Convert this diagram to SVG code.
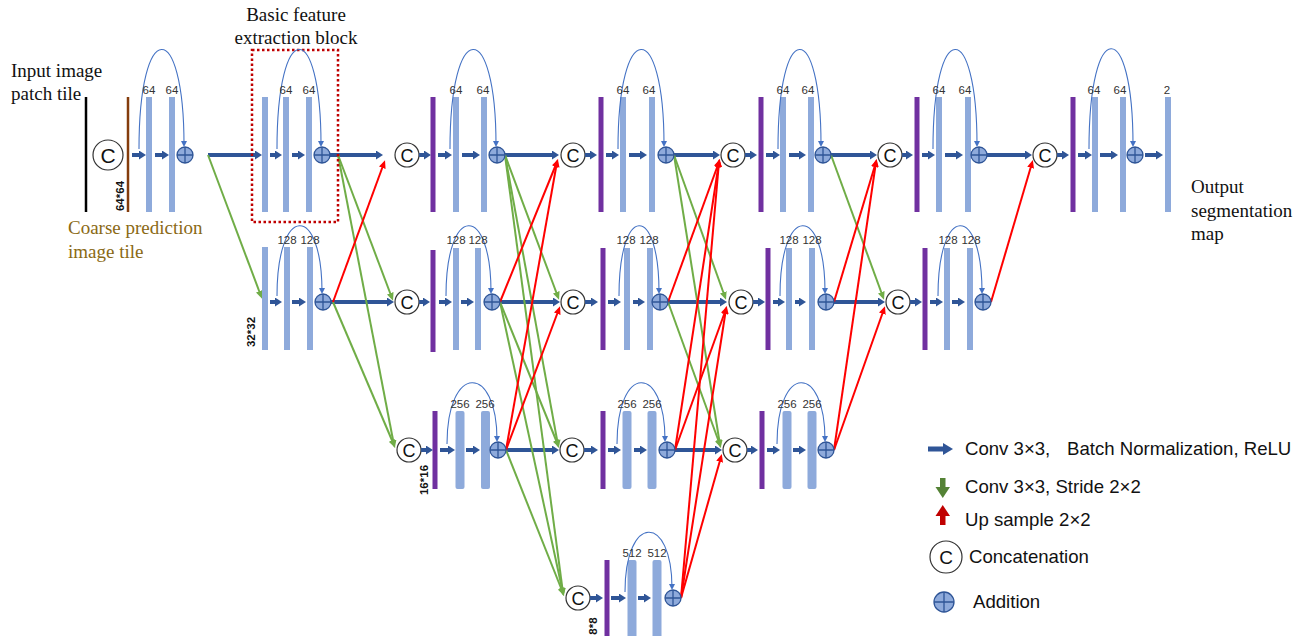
<svg xmlns="http://www.w3.org/2000/svg" xmlns:xlink="http://www.w3.org/1999/xlink" width="1302" height="636" viewBox="0 0 1302 636">
<style>
.lb{fill:#8eaadb}
.pu{fill:#7030a0}
.ba{stroke:#2f5597;stroke-width:4;fill:none;marker-end:url(#mb)}
.g{stroke:#70ad47;stroke-width:2;fill:none;marker-end:url(#mg)}
.r{stroke:#ff0000;stroke-width:2;fill:none;marker-end:url(#mr)}
.arc{stroke:#4472c4;stroke-width:1.1;fill:none;marker-end:url(#ma)}
.lab{font-family:"Liberation Sans",Arial,sans-serif;font-size:11.5px;fill:#333;text-anchor:middle}
.dim{font-family:"Liberation Sans",Arial,sans-serif;font-size:11.5px;font-weight:bold;fill:#111;text-anchor:middle}
.serif{font-family:"Liberation Serif","Times New Roman",serif;font-size:19px;fill:#111}
.leg{font-family:"Liberation Sans",Arial,sans-serif;font-size:18.6px;fill:#111}
</style>
<defs>
<marker id="mb" viewBox="0 0 7 9" refX="2" refY="4.5" markerWidth="7" markerHeight="9" markerUnits="userSpaceOnUse" orient="auto"><path d="M0,0 L7,4.5 L0,9 z" fill="#2f5597"/></marker>
<marker id="mg" viewBox="0 0 8 7" refX="5" refY="3.5" markerWidth="8" markerHeight="7" markerUnits="userSpaceOnUse" orient="auto"><path d="M0,0 L8,3.5 L0,7 z" fill="#70ad47"/></marker>
<marker id="mr" viewBox="0 0 8 7" refX="5" refY="3.5" markerWidth="8" markerHeight="7" markerUnits="userSpaceOnUse" orient="auto"><path d="M0,0 L8,3.5 L0,7 z" fill="#ff0000"/></marker>
<marker id="ma" viewBox="0 0 6 6" refX="4" refY="3" markerWidth="6" markerHeight="6" markerUnits="userSpaceOnUse" orient="auto"><path d="M0,0 L6,3 L0,6 z" fill="#4472c4"/></marker>
<g id="addsym"><circle r="8" fill="#8eaadb" stroke="#2f5597" stroke-width="1.3"/><path d="M-8,0H8M0,-8V8" stroke="#2f5597" stroke-width="1.3"/></g>
<g id="csym"><circle r="12" fill="#fff" stroke="#333" stroke-width="1.2"/><text y="6.5" text-anchor="middle" font-family="Liberation Sans,Arial,sans-serif" font-size="18" fill="#111">C</text></g>
</defs>
<rect width="1302" height="636" fill="#fff"/>

<g id="titles">
<text class="serif" x="11" y="77">Input image</text>
<text class="serif" x="11" y="100">patch tile</text>
<text class="serif" x="68" y="234" style="fill:#8a6914">Coarse prediction</text>
<text class="serif" x="68" y="258" style="fill:#8a6914">image tile</text>
<text class="serif" x="296" y="21" text-anchor="middle">Basic feature</text>
<text class="serif" x="296" y="44" text-anchor="middle">extraction block</text>
<text class="serif" x="1191" y="193">Output</text>
<text class="serif" x="1191" y="217">segmentation</text>
<text class="serif" x="1191" y="240">map</text>
</g>

<g id="connectors">
<line class="ba" x1="208" y1="155" x2="257" y2="155"/>
<line class="ba" x1="330" y1="155" x2="378" y2="155"/>
<line class="ba" x1="331" y1="302" x2="389" y2="302"/>
<line class="ba" x1="505" y1="155" x2="554" y2="155"/>
<line class="ba" x1="500" y1="302" x2="555" y2="302"/>
<line class="ba" x1="506" y1="450" x2="554" y2="450"/>
<line class="ba" x1="674" y1="155" x2="715" y2="155"/>
<line class="ba" x1="668" y1="302" x2="722" y2="302"/>
<line class="ba" x1="675" y1="450" x2="717" y2="450"/>
<line class="ba" x1="831" y1="155" x2="872" y2="155"/>
<line class="ba" x1="834" y1="302" x2="880" y2="302"/>
<line class="ba" x1="987" y1="155" x2="1027" y2="155"/>

<line class="g" x1="208" y1="155" x2="261" y2="296"/>
<line class="g" x1="338" y1="155" x2="392" y2="298"/>
<line class="g" x1="338" y1="155" x2="394" y2="445"/>
<line class="g" x1="333" y1="302" x2="394" y2="445"/>
<line class="g" x1="505" y1="155" x2="558" y2="297"/>
<line class="g" x1="505" y1="155" x2="558" y2="445"/>
<line class="g" x1="505" y1="155" x2="563" y2="593"/>
<line class="g" x1="500" y1="302" x2="558" y2="445"/>
<line class="g" x1="500" y1="302" x2="563" y2="593"/>
<line class="g" x1="506" y1="450" x2="563" y2="593"/>
<line class="g" x1="674" y1="155" x2="725" y2="297"/>
<line class="g" x1="674" y1="155" x2="720" y2="445"/>
<line class="g" x1="668" y1="302" x2="720" y2="445"/>
<line class="g" x1="831" y1="155" x2="883" y2="297"/>

<line class="r" x1="333" y1="302" x2="384" y2="163"/>
<line class="r" x1="500" y1="302" x2="557" y2="162"/>
<line class="r" x1="506" y1="450" x2="557" y2="162"/>
<line class="r" x1="506" y1="450" x2="559" y2="309"/>
<line class="r" x1="668" y1="302" x2="719" y2="162"/>
<line class="r" x1="675" y1="450" x2="719" y2="162"/>
<line class="r" x1="675" y1="450" x2="726" y2="309"/>
<line class="r" x1="681" y1="598" x2="719" y2="162"/>
<line class="r" x1="681" y1="598" x2="726" y2="309"/>
<line class="r" x1="681" y1="598" x2="721" y2="457"/>
<line class="r" x1="834" y1="302" x2="876" y2="162"/>
<line class="r" x1="834" y1="450" x2="876" y2="162"/>
<line class="r" x1="834" y1="450" x2="884" y2="309"/>
<line class="r" x1="991" y1="302" x2="1032" y2="163"/>
</g>

<rect id="block-box" x="252" y="50" width="86" height="172" fill="none" stroke="#c00000" stroke-width="2.5" stroke-dasharray="2.5 2.5"/>

<g id="n-input">
<line x1="86" y1="97" x2="86" y2="212" stroke="#000" stroke-width="2.5"/>
<circle cx="108" cy="155" r="15" fill="#fff" stroke="#333" stroke-width="1.2"/>
<text x="108" y="162.5" text-anchor="middle" font-family="Liberation Sans,Arial,sans-serif" font-size="21" fill="#111">C</text>
<line x1="128" y1="97" x2="128" y2="212" stroke="#843c0c" stroke-width="2.5"/>
<text class="dim" transform="translate(124,196) rotate(-90)">64*64</text>
<line class="ba" x1="132" y1="155" x2="141" y2="155"/>
<rect class="lb" x="146" y="97" width="6" height="115"/>
<line class="ba" x1="155" y1="155" x2="164" y2="155"/>
<rect class="lb" x="169" y="97" width="6" height="115"/>
<use xlink:href="#addsym" x="185" y="155"/>
<path class="arc" d="M139,149 C139,17 184,17 184,145"/>
<text class="lab" x="149" y="94">64</text><text class="lab" x="172" y="94">64</text>
</g>

<g id="n-s1r1">
<rect class="lb" x="262" y="97" width="6" height="115"/>
<line class="ba" x1="270" y1="155" x2="277" y2="155"/>
<rect class="lb" x="283" y="97" width="6" height="115"/>
<line class="ba" x1="292" y1="155" x2="300" y2="155"/>
<rect class="lb" x="306" y="97" width="6" height="115"/>
<use xlink:href="#addsym" x="322" y="155"/>
<path class="arc" d="M277,149 C277,17 321,17 321,145"/>
<text class="lab" x="286" y="94">64</text><text class="lab" x="309" y="94">64</text>
</g>

<g id="n-s1r2">
<rect class="lb" x="262" y="247" width="6" height="103"/>
<line class="ba" x1="270" y1="302" x2="277" y2="302"/>
<rect class="lb" x="284" y="247" width="6" height="103"/>
<line class="ba" x1="292" y1="302" x2="301" y2="302"/>
<rect class="lb" x="307" y="247" width="6" height="103"/>
<use xlink:href="#addsym" x="323" y="302"/>
<path class="arc" d="M277,296 C277,203 322,203 322,292"/>
<text class="lab" x="287" y="244">128</text><text class="lab" x="310" y="244">128</text>
<text class="dim" transform="translate(255,332) rotate(-90)">32*32</text>
</g>

<g id="n-s2r1">
<use xlink:href="#csym" x="407" y="155"/>
<line class="ba" x1="419" y1="155" x2="426" y2="155"/>
<rect class="pu" x="430.5" y="97" width="5" height="115"/>
<line class="ba" x1="438" y1="155" x2="447" y2="155"/>
<rect class="lb" x="453" y="97" width="6" height="115"/>
<line class="ba" x1="462" y1="155" x2="475" y2="155"/>
<rect class="lb" x="481" y="97" width="6" height="115"/>
<use xlink:href="#addsym" x="497" y="155"/>
<path class="arc" d="M450,149 C450,17 496,17 496,145"/>
<text class="lab" x="456" y="94">64</text><text class="lab" x="483" y="94">64</text>
</g>

<g id="n-s2r2">
<use xlink:href="#csym" x="407" y="302"/>
<line class="ba" x1="419" y1="302" x2="425" y2="302"/>
<rect class="pu" x="430.5" y="250" width="5" height="102"/>
<line class="ba" x1="439" y1="302" x2="447" y2="302"/>
<rect class="lb" x="453" y="248" width="6" height="102"/>
<line class="ba" x1="461" y1="302" x2="469" y2="302"/>
<rect class="lb" x="475" y="248" width="6" height="102"/>
<use xlink:href="#addsym" x="492" y="302"/>
<path class="arc" d="M446,296 C446,203 491,203 491,292"/>
<text class="lab" x="456" y="244">128</text><text class="lab" x="478" y="244">128</text>
</g>

<g id="n-s2r3">
<use xlink:href="#csym" x="409" y="450"/>
<line class="ba" x1="421" y1="450" x2="428" y2="450"/>
<rect class="pu" x="432.5" y="411" width="5" height="78"/>
<line class="ba" x1="440" y1="450" x2="450" y2="450"/>
<rect class="lb" x="455.5" y="411" width="9" height="78" rx="2"/>
<line class="ba" x1="466" y1="450" x2="475" y2="450"/>
<rect class="lb" x="481" y="411" width="9" height="78" rx="2"/>
<use xlink:href="#addsym" x="498" y="450"/>
<path class="arc" d="M447,444 C447,363 497,363 497,440"/>
<text class="lab" x="460" y="408">256</text><text class="lab" x="485" y="408">256</text>
<text class="dim" transform="translate(428,480) rotate(-90)">16*16</text>
</g>

<g id="n-s3r1">
<use xlink:href="#csym" x="573" y="155"/>
<line class="ba" x1="585" y1="155" x2="592" y2="155"/>
<rect class="pu" x="598.5" y="97" width="5" height="115"/>
<line class="ba" x1="606" y1="155" x2="614" y2="155"/>
<rect class="lb" x="620" y="97" width="6" height="115"/>
<line class="ba" x1="629" y1="155" x2="642" y2="155"/>
<rect class="lb" x="649" y="97" width="6" height="115"/>
<use xlink:href="#addsym" x="666" y="155"/>
<path class="arc" d="M618,149 C618,17 664,17 664,145"/>
<text class="lab" x="623" y="94">64</text><text class="lab" x="649" y="94">64</text>
</g>

<g id="n-s3r2">
<use xlink:href="#csym" x="573" y="302"/>
<line class="ba" x1="585" y1="302" x2="593" y2="302"/>
<rect class="pu" x="600.5" y="248" width="5" height="102"/>
<line class="ba" x1="608" y1="302" x2="616" y2="302"/>
<rect class="lb" x="624" y="248" width="6" height="102"/>
<line class="ba" x1="633" y1="302" x2="640" y2="302"/>
<rect class="lb" x="647" y="248" width="6" height="102"/>
<use xlink:href="#addsym" x="660" y="302"/>
<path class="arc" d="M619,296 C619,203 659,203 659,292"/>
<text class="lab" x="626" y="244">128</text><text class="lab" x="649" y="244">128</text>
</g>

<g id="n-s3r3">
<use xlink:href="#csym" x="572" y="450"/>
<line class="ba" x1="584" y1="450" x2="593" y2="450"/>
<rect class="pu" x="600.5" y="411" width="5" height="78"/>
<line class="ba" x1="608" y1="450" x2="616" y2="450"/>
<rect class="lb" x="622.5" y="411" width="9" height="78" rx="2"/>
<line class="ba" x1="634" y1="450" x2="642" y2="450"/>
<rect class="lb" x="647.5" y="411" width="9" height="78" rx="2"/>
<use xlink:href="#addsym" x="667" y="450"/>
<path class="arc" d="M617,444 C617,363 665,363 665,440"/>
<text class="lab" x="627" y="408">256</text><text class="lab" x="652" y="408">256</text>
</g>

<g id="n-s3r4">
<use xlink:href="#csym" x="578" y="598"/>
<line class="ba" x1="590" y1="598" x2="598" y2="598"/>
<rect class="pu" x="604.5" y="560" width="5" height="80"/>
<line class="ba" x1="611" y1="598" x2="621" y2="598"/>
<rect class="lb" x="627.5" y="560" width="9" height="80" rx="2"/>
<line class="ba" x1="638" y1="598" x2="646" y2="598"/>
<rect class="lb" x="652.5" y="560" width="9" height="80" rx="2"/>
<use xlink:href="#addsym" x="673" y="598"/>
<path class="arc" d="M625,592 C625,513 672,513 672,588"/>
<text class="lab" x="632" y="557">512</text><text class="lab" x="657" y="557">512</text>
<text class="dim" transform="translate(597,626) rotate(-90)">8*8</text>
</g>

<g id="n-s4r1">
<use xlink:href="#csym" x="733" y="155"/>
<line class="ba" x1="745" y1="155" x2="752" y2="155"/>
<rect class="pu" x="758.5" y="97" width="5" height="115"/>
<line class="ba" x1="766" y1="155" x2="775" y2="155"/>
<rect class="lb" x="780" y="97" width="6" height="115"/>
<line class="ba" x1="789" y1="155" x2="801" y2="155"/>
<rect class="lb" x="808" y="97" width="6" height="115"/>
<use xlink:href="#addsym" x="823" y="155"/>
<path class="arc" d="M778,149 C778,17 821,17 821,145"/>
<text class="lab" x="783" y="94">64</text><text class="lab" x="808" y="94">64</text>
</g>

<g id="n-s4r2">
<use xlink:href="#csym" x="741" y="302"/>
<line class="ba" x1="753" y1="302" x2="760" y2="302"/>
<rect class="pu" x="765.5" y="248" width="5" height="102"/>
<line class="ba" x1="773" y1="302" x2="780" y2="302"/>
<rect class="lb" x="786" y="248" width="6" height="102"/>
<line class="ba" x1="795" y1="302" x2="801" y2="302"/>
<rect class="lb" x="809" y="248" width="6" height="102"/>
<use xlink:href="#addsym" x="826" y="302"/>
<path class="arc" d="M780,296 C780,203 825,203 825,292"/>
<text class="lab" x="789" y="244">128</text><text class="lab" x="812" y="244">128</text>
</g>

<g id="n-s4r3">
<use xlink:href="#csym" x="735" y="450"/>
<line class="ba" x1="747" y1="450" x2="753" y2="450"/>
<rect class="pu" x="759.5" y="411" width="5" height="78"/>
<line class="ba" x1="767" y1="450" x2="775" y2="450"/>
<rect class="lb" x="782.5" y="411" width="9" height="78" rx="2"/>
<line class="ba" x1="793" y1="450" x2="801" y2="450"/>
<rect class="lb" x="807.5" y="411" width="9" height="78" rx="2"/>
<use xlink:href="#addsym" x="826" y="450"/>
<path class="arc" d="M777,444 C777,363 825,363 825,440"/>
<text class="lab" x="787" y="408">256</text><text class="lab" x="812" y="408">256</text>
</g>

<g id="n-s5r1">
<use xlink:href="#csym" x="890" y="155"/>
<line class="ba" x1="902" y1="155" x2="908" y2="155"/>
<rect class="pu" x="914.5" y="97" width="5" height="115"/>
<line class="ba" x1="922" y1="155" x2="930" y2="155"/>
<rect class="lb" x="936" y="97" width="6" height="115"/>
<line class="ba" x1="945" y1="155" x2="958" y2="155"/>
<rect class="lb" x="965" y="97" width="6" height="115"/>
<use xlink:href="#addsym" x="979" y="155"/>
<path class="arc" d="M933,149 C933,17 977,17 977,145"/>
<text class="lab" x="939" y="94">64</text><text class="lab" x="965" y="94">64</text>
</g>

<g id="n-s5r2">
<use xlink:href="#csym" x="898" y="302"/>
<line class="ba" x1="910" y1="302" x2="917" y2="302"/>
<rect class="pu" x="922.5" y="248" width="5" height="102"/>
<line class="ba" x1="930" y1="302" x2="938" y2="302"/>
<rect class="lb" x="944" y="248" width="6" height="102"/>
<line class="ba" x1="952" y1="302" x2="960" y2="302"/>
<rect class="lb" x="967" y="248" width="6" height="102"/>
<use xlink:href="#addsym" x="983" y="302"/>
<path class="arc" d="M938,296 C938,203 982,203 982,292"/>
<text class="lab" x="948" y="244">128</text><text class="lab" x="971" y="244">128</text>
</g>

<g id="n-s6r1">
<use xlink:href="#csym" x="1045" y="155"/>
<line class="ba" x1="1057" y1="155" x2="1064" y2="155"/>
<rect class="pu" x="1070.5" y="97" width="5" height="115"/>
<line class="ba" x1="1078" y1="155" x2="1087" y2="155"/>
<rect class="lb" x="1092" y="97" width="6" height="115"/>
<line class="ba" x1="1100" y1="155" x2="1113" y2="155"/>
<rect class="lb" x="1120" y="97" width="6" height="115"/>
<use xlink:href="#addsym" x="1135" y="155"/>
<line class="ba" x1="1145" y1="155" x2="1158" y2="155"/>
<rect class="lb" x="1165" y="97" width="6" height="115"/>
<path class="arc" d="M1089,149 C1089,16 1133,16 1133,145"/>
<text class="lab" x="1094" y="94">64</text><text class="lab" x="1120" y="94">64</text><text class="lab" x="1167" y="94">2</text>
</g>

<g id="legend">
<rect x="928" y="446.5" width="16" height="5" fill="#2f5597"/>
<path d="M943,443 L953,449 L943,455 z" fill="#2f5597"/>
<text class="leg" x="965" y="455">Conv 3×3,<tspan x="1067">Batch Normalization, ReLU</tspan></text>
<rect x="940" y="478" width="5.5" height="10" fill="#548235"/>
<path d="M935.5,487 L950,487 L942.75,498 z" fill="#548235"/>
<text class="leg" x="965" y="493">Conv 3×3, Stride 2×2</text>
<path d="M935.5,516 L950,516 L942.75,505 z" fill="#c00000"/>
<rect x="940" y="515" width="5.5" height="10" fill="#c00000"/>
<text class="leg" x="965" y="526">Up sample 2×2</text>
<circle cx="946" cy="557" r="16" fill="#fff" stroke="#333" stroke-width="1.2"/>
<text x="946" y="564" text-anchor="middle" font-family="Liberation Sans,Arial,sans-serif" font-size="19" fill="#111">C</text>
<text class="leg" x="969" y="563">Concatenation</text>
<circle cx="944" cy="602" r="10" fill="#8eaadb" stroke="#2f5597" stroke-width="1.3"/>
<path d="M934,602H954M944,592V612" stroke="#2f5597" stroke-width="1.3"/>
<text class="leg" x="973" y="608">Addition</text>
</g>
</svg>
